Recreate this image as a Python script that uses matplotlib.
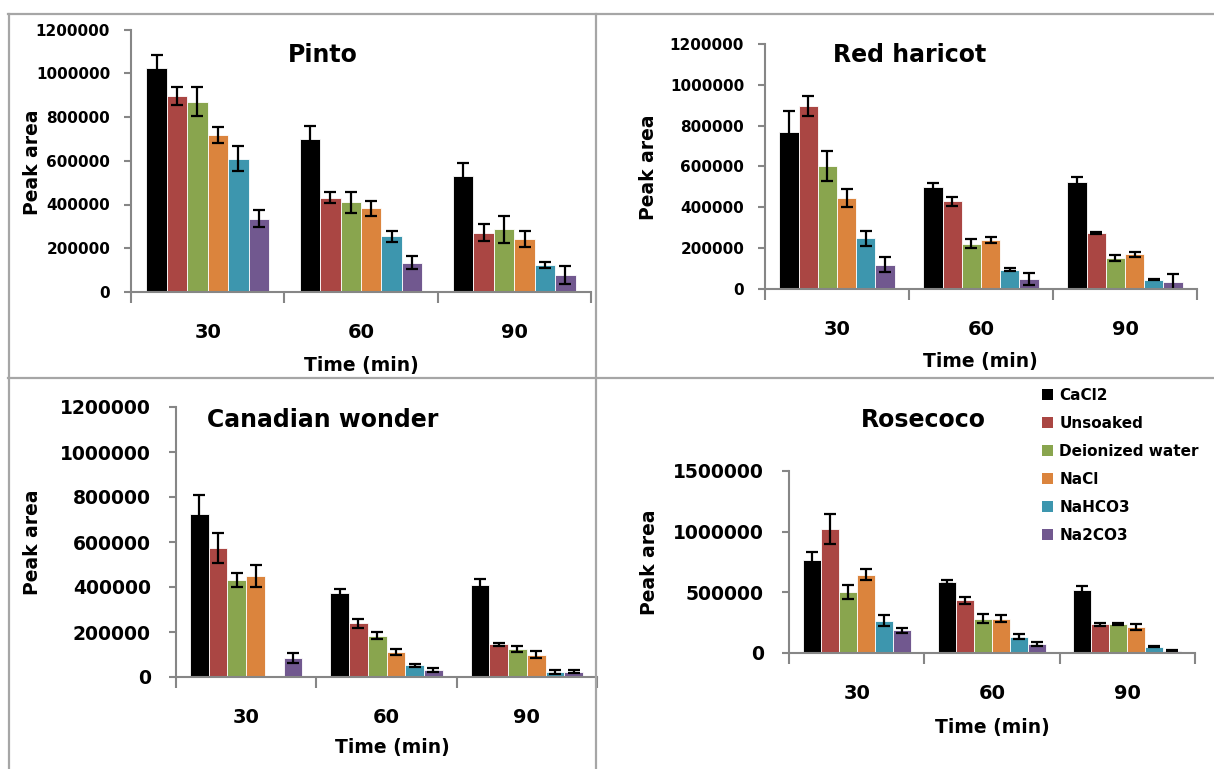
import matplotlib
matplotlib.use("Agg")
import matplotlib.pyplot as plt
import numpy as np
from matplotlib.lines import Line2D
from matplotlib.patches import Patch

# ---- data -----------------------------------------------------------------
times = ["30", "60", "90"]
treatments = ["CaCl2", "Unsoaked", "Deionized water", "NaCl", "NaHCO3", "Na2CO3"]
colors = ["#000000", "#AA4643", "#89A54E", "#DB843D", "#3D96AE", "#71588F"]

# rows = treatments, columns = 30 / 60 / 90 min
pinto = [[1026000, 700000, 532000],
         [898000, 432000, 271000],
         [869000, 410000, 287000],
         [718000, 383000, 242000],
         [610000, 255000, 124000],
         [335000, 133000, 78000]]
pinto_err = [[58000, 58000, 58000],
             [41000, 24000, 40000],
             [66000, 49000, 62000],
             [37000, 35000, 37000],
             [58000, 26000, 13000],
             [38000, 30000, 40000]]

red_haricot = [[771000, 500000, 526000],
               [896000, 429000, 273000],
               [602000, 222000, 153000],
               [446000, 240000, 171000],
               [248000, 95000, 46000],
               [119000, 49000, 36000]]
red_haricot_err = [[100000, 21000, 24000],
                   [47000, 21000, 5000],
                   [75000, 23000, 15000],
                   [44000, 15000, 12000],
                   [38000, 8000, 4000],
                   [38000, 31000, 39000]]

# NaHCO3 at 30 min has no bar in the source chart
canadian = [[725000, 374000, 407000],
            [572000, 238000, 146000],
            [431000, 183000, 126000],
            [449000, 111000, 100000],
            [np.nan, 53000, 22000],
            [86000, 31000, 24000]]
canadian_err = [[82000, 19000, 27000],
                [67000, 18000, 6000],
                [33000, 15000, 13000],
                [49000, 13000, 15000],
                [np.nan, 7000, 10000],
                [22000, 8000, 8000]]

rosecoco = [[764000, 587000, 521000],
            [1023000, 433000, 237000],
            [499000, 284000, 237000],
            [645000, 284000, 212000],
            [267000, 135000, 52000],
            [187000, 74000, 19000]]
rosecoco_err = [[69000, 17000, 30000],
                [121000, 30000, 11000],
                [58000, 36000, 8000],
                [47000, 30000, 25000],
                [47000, 22000, 5000],
                [22000, 17000, 5000]]

W, H = 1214, 769
AXIS_GRAY = "#868686"
BORDER_GRAY = "#A6A6A6"
FONT = "DejaVu Sans"


def px_rect(x0, x1, ytop, ybot):
    """Axes rectangle from pixel coordinates of the reference."""
    return [x0 / W, 1 - ybot / H, (x1 - x0) / W, (ybot - ytop) / H]


def draw_panel(fig, rect, vals, errs, yticks, xmax=2.5, ysize=11, ypad=10):
    ax = fig.add_axes(rect)
    x = np.arange(len(times))
    n = len(treatments)
    bw = 0.8 / n
    for i in range(n):
        ax.bar(x - 0.4 + bw * (i + 0.5), vals[i], bw, yerr=errs[i],
               color=colors[i], edgecolor="white", linewidth=0.6,
               capsize=4, error_kw=dict(elinewidth=1.6, capthick=1.6, ecolor="black"))
    ax.set_xlim(-0.5, xmax)
    ax.set_ylim(yticks[0], yticks[-1])
    ax.set_yticks(yticks)
    ax.set_yticklabels([str(t) for t in yticks])
    ax.set_xticks(x)
    ax.set_xticklabels(times)
    ax.set_xticks([-0.5, 0.5, 1.5, 2.5], minor=True)
    ax.tick_params(axis="x", which="major", length=0, pad=22)
    ax.tick_params(axis="x", which="minor", length=8, width=1.5, color=AXIS_GRAY, direction="out")
    ax.tick_params(axis="y", length=5, width=1.5, color=AXIS_GRAY, direction="out", pad=ypad)
    for lab in ax.get_yticklabels():
        lab.set_fontweight("bold")
        lab.set_fontsize(ysize)
    for lab in ax.get_xticklabels():
        lab.set_fontweight("bold")
        lab.set_fontsize(14)
    for s in ("top", "right"):
        ax.spines[s].set_visible(False)
    for s in ("left", "bottom"):
        ax.spines[s].set_color(AXIS_GRAY)
        ax.spines[s].set_linewidth(1.5)
    return ax


def label(fig, px, py, text, size, rot=0):
    fig.text(px / W, 1 - py / H, text, ha="center", va="center", rotation=rot,
             fontsize=size, fontweight="bold", family=FONT)


plt.rcParams["font.family"] = FONT
fig = plt.figure(figsize=(W / 100, H / 100), dpi=100, facecolor="white")

draw_panel(fig, px_rect(131, 591, 29.5, 292), pinto, pinto_err,
           [0, 200000, 400000, 600000, 800000, 1000000, 1200000])
draw_panel(fig, px_rect(765, 1197, 44, 289), red_haricot, red_haricot_err,
           [0, 200000, 400000, 600000, 800000, 1000000, 1200000])
draw_panel(fig, px_rect(176, 597, 407, 677), canadian, canadian_err,
           [0, 200000, 400000, 600000, 800000, 1000000, 1200000], xmax=2.42,
           ysize=13.5, ypad=13)
draw_panel(fig, px_rect(789, 1195, 471, 653), rosecoco, rosecoco_err,
           [0, 500000, 1000000, 1500000], ysize=13.5, ypad=13)

# panel titles and axis labels
label(fig, 323, 55, "Pinto", 17)
label(fig, 910, 55, "Red haricot", 17)
label(fig, 323, 420, "Canadian wonder", 17)
label(fig, 923, 420, "Rosecoco", 17)

label(fig, 361, 366, "Time (min)", 13.5)
label(fig, 980, 362, "Time (min)", 13.5)
label(fig, 392, 748, "Time (min)", 13.5)
label(fig, 992, 728, "Time (min)", 13.5)

label(fig, 33, 162, "Peak area", 13.5, rot=90)
label(fig, 648, 167, "Peak area", 13.5, rot=90)
label(fig, 33, 542, "Peak area", 13.5, rot=90)
label(fig, 650, 562, "Peak area", 13.5, rot=90)

# legend
handles = [Patch(facecolor=c, edgecolor="none") for c in colors]
fig.legend(handles, treatments, loc="upper left",
           bbox_to_anchor=(1034 / W, 1 - 380 / H), frameon=False,
           handlelength=0.75, handleheight=0.75, handletextpad=0.4,
           labelspacing=0.85, borderpad=0,
           prop=dict(weight="bold", size=11, family=FONT))

# panel border lines
for xs, ys in [([8, W], [14, 14]), ([8, W], [377.5, 377.5]),
               ([8.5, 8.5], [14, H]), ([596, 596], [14, H])]:
    fig.add_artist(Line2D([x / W for x in xs], [1 - y / H for y in ys],
                          color=BORDER_GRAY, linewidth=1.6))

fig.savefig("out.png", dpi=100, facecolor="white")
